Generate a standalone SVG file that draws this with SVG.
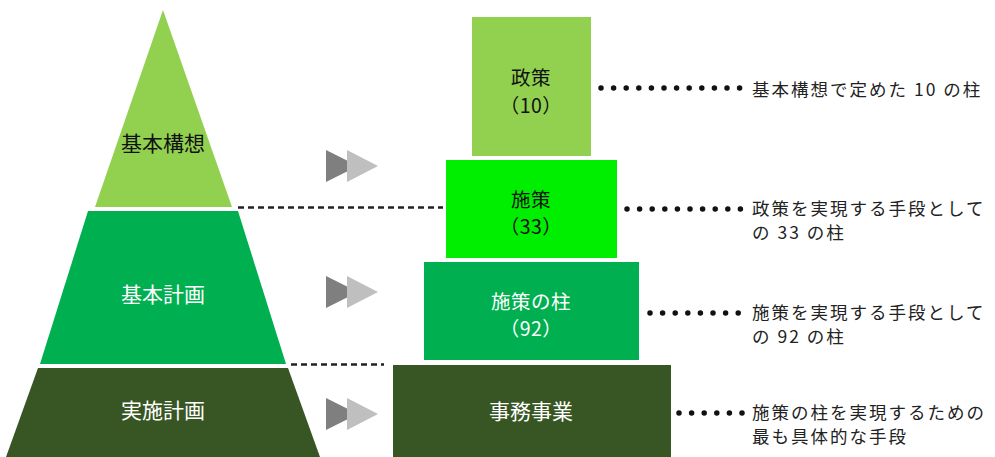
<svg xmlns="http://www.w3.org/2000/svg" width="995" height="457" viewBox="0 0 995 457">
<style>
.t{font-family:"Noto Sans CJK JP","Noto Sans",sans-serif;text-anchor:middle;dominant-baseline:central}
.lbl{font-size:21px}
.bl{font-size:19.5px;letter-spacing:0.5px}
.d{font-family:"Noto Sans CJK JP","Noto Sans",sans-serif;font-size:17.5px;letter-spacing:2px;fill:#222}
.dash{stroke:#222;stroke-width:2.4;stroke-dasharray:6 4;fill:none}
.dot{stroke:#111;stroke-width:5.5;stroke-linecap:round;stroke-dasharray:0 12.6;fill:none}
.a1{fill:#7f7f7f}
.a2{fill:#bfbfbf}
</style>
<rect width="995" height="457" fill="#ffffff"/>
<g id="pyramid-top">
<polygon points="163,10 232,207 95,207" fill="#92d050"/>
<text class="t lbl" x="163" y="142" fill="#111">基本構想</text>
</g>
<g id="pyramid-mid">
<polygon points="88,211 238,211 286,364 40,364" fill="#00b050"/>
<text class="t lbl" x="163" y="293" fill="#ffffff">基本計画</text>
</g>
<g id="pyramid-bottom">
<polygon points="38,368 288,368 320,457 6,457" fill="#375623"/>
<text class="t lbl" x="163" y="409" fill="#ffffff">実施計画</text>
</g>
<g id="arrows">
<polygon class="a1" points="326,150 326,182 358,166"/>
<polygon class="a2" points="347,150 347,182 378,166"/>
<polygon class="a1" points="326,276 326,308 358,292"/>
<polygon class="a2" points="347,276 347,308 378,292"/>
<polygon class="a1" points="326,398 326,430 358,414"/>
<polygon class="a2" points="347,398 347,430 378,414"/>
</g>
<g id="box-seisaku">
<rect x="472" y="17" width="119" height="139" fill="#92d050"/>
<text class="t bl" x="531" y="76.5" fill="#111">政策</text>
<text class="t bl" x="531" y="104" fill="#111">（10）</text>
</g>
<g id="box-shisaku">
<rect x="446" y="160" width="171" height="98" fill="#00ee00"/>
<text class="t bl" x="531" y="198" fill="#111">施策</text>
<text class="t bl" x="531" y="225.5" fill="#111">（33）</text>
</g>
<g id="box-hashira">
<rect x="424" y="262" width="215" height="98" fill="#00b050"/>
<text class="t bl" x="531" y="300" fill="#ffffff">施策の柱</text>
<text class="t bl" x="531" y="327.5" fill="#ffffff">（92）</text>
</g>
<g id="box-jimu">
<rect x="393" y="365" width="278" height="92" fill="#375623"/>
<text class="t lbl" x="531" y="410" fill="#ffffff">事務事業</text>
</g>
<g id="connectors">
<line class="dash" x1="238" y1="207.5" x2="443" y2="207.5"/>
<line class="dash" x1="291" y1="364.5" x2="384" y2="364.5"/>
<line class="dot" x1="601" y1="88" x2="747" y2="88"/>
<line class="dot" x1="627" y1="209" x2="747" y2="209"/>
<line class="dot" x1="650" y1="313" x2="747" y2="313"/>
<line class="dot" x1="679" y1="413" x2="747" y2="413"/>
</g>
<g id="descriptions">
<text class="d" x="752" y="88" dominant-baseline="central">基本構想で定めた 10 の柱</text>
<text class="d" x="752" y="207.5" dominant-baseline="central">政策を実現する手段として<tspan x="752" dy="23">の 33 の柱</tspan></text>
<text class="d" x="752" y="311.5" dominant-baseline="central">施策を実現する手段として<tspan x="752" dy="23">の 92 の柱</tspan></text>
<text class="d" x="752" y="411.5" dominant-baseline="central">施策の柱を実現するための<tspan x="752" dy="23">最も具体的な手段</tspan></text>
</g>
</svg>
